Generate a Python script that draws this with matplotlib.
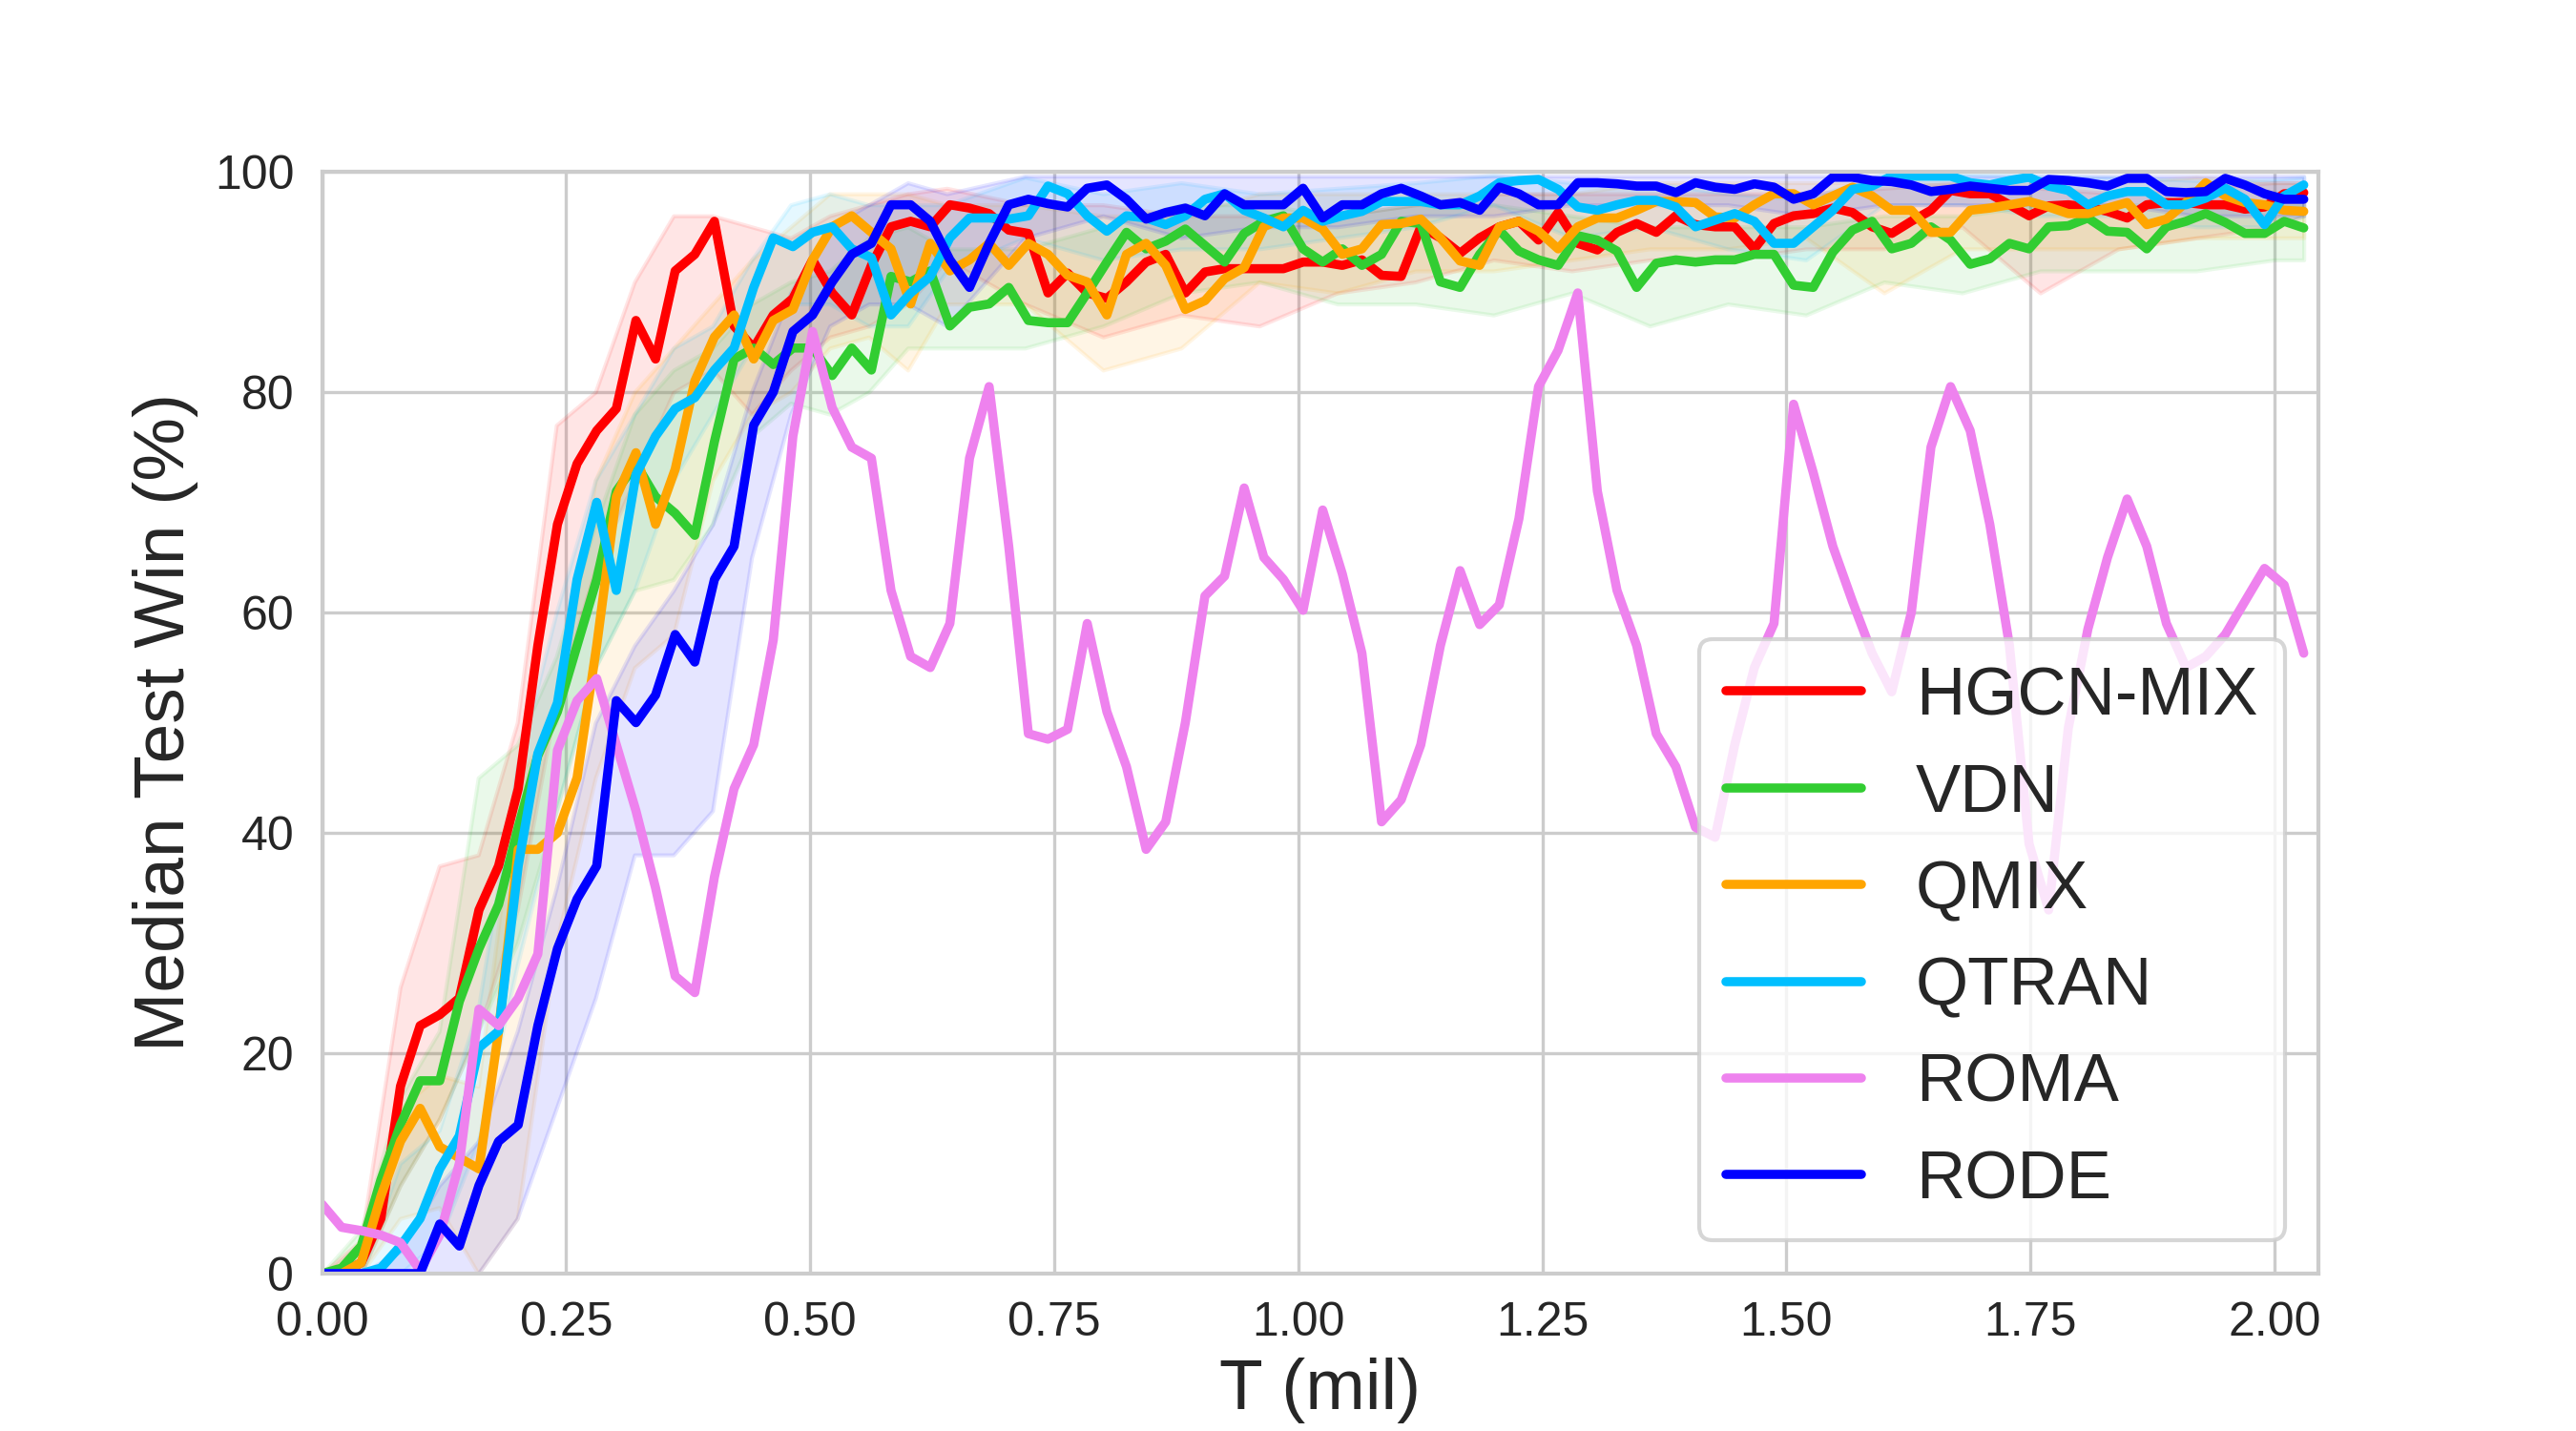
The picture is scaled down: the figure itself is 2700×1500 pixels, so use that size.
import numpy as np
import matplotlib
matplotlib.use("Agg")
import matplotlib.pyplot as plt
import seaborn as sns

# median test win rate, one value every ~0.02 mil steps
t = np.linspace(0, 2.03, 102)

hgcn = [0, 0, 1, 5, 17, 22.5, 23.5, 25, 33, 37,
        44, 57, 68, 73.5, 76.5, 78.5, 86.5, 83, 91, 92.5,
        95.5, 86, 84, 87, 88.5, 92, 89, 87, 91.5, 95,
        95.5, 95, 97, 96.7, 96.2, 94.7, 94.4, 89, 90.8, 89,
        88.5, 90, 91.8, 92.5, 89, 90.9, 91.2, 91.2, 91.2, 91.2,
        91.8, 91.8, 91.5, 92, 90.6, 90.5, 95, 94, 92.6, 94,
        95, 95.5, 93.8, 96.3, 93.5, 92.9, 94.5, 95.3, 94.5, 96,
        95.2, 95, 95, 93, 95.3, 96, 96.2, 96.7, 96.3, 95,
        94.4, 95.5, 96.5, 98.3, 98, 98, 97, 96, 96.9, 97,
        96.8, 96.4, 95.8, 97, 97.2, 97.2, 97, 97, 96.6, 96.8,
        98, 98.1]
vdn = [0, 0.5, 2.5, 8.5, 13.5, 17.5, 17.5, 24.7, 29.5, 33.5,
       40.5, 47, 51, 57, 63, 71, 73.5, 70.5, 69, 67,
       75.5, 83, 84, 82.5, 84, 84, 81.5, 84, 82, 90.5,
       90, 91, 86, 87.7, 88, 89.5, 86.5, 86.3, 86.3, 89,
       91.8, 94.5, 93, 93.7, 94.8, 93.3, 91.8, 94.4, 95.5, 96,
       93, 91.8, 93, 91.5, 92.5, 95.5, 95.3, 90, 89.5, 92.5,
       94.7, 92.8, 92, 91.5, 94.2, 93.8, 92.8, 89.5, 91.7, 92,
       91.8, 92, 92, 92.5, 92.5, 89.7, 89.5, 92.7, 94.7, 95.5,
       93, 93.5, 95, 93.8, 91.6, 92.1, 93.5, 93, 95, 95.1,
       95.8, 94.6, 94.5, 93, 95, 95.5, 96.2, 95.4, 94.4, 94.4,
       95.5, 94.9]
qmix = [0, 0, 1, 7, 12, 15, 11.5, 10.5, 9.5, 22,
        38.5, 38.5, 40, 45, 57, 70.5, 74.5, 68, 73, 81,
        85, 87, 83, 86.5, 87.5, 92, 95, 96, 94.5, 93,
        88, 93.5, 91, 92, 93.5, 91.5, 93.5, 92.5, 90.6, 90,
        87, 92.5, 93.5, 91.5, 87.5, 88.3, 90.3, 91.3, 95, 95.8,
        95.8, 94.8, 92.5, 93, 95.2, 95.3, 95.7, 94, 91.9, 91.5,
        95, 95.5, 94.6, 93, 95, 95.8, 95.8, 96.5, 97.3, 97.3,
        97.2, 95.9, 95.8, 97, 98, 98, 97, 97.8, 98.6, 97.8,
        96.5, 96.5, 94.5, 94.5, 96.5, 96.7, 97, 97.3, 96.8, 96.2,
        96.2, 96.7, 97.2, 95.2, 95.7, 97.2, 99, 97.8, 97.2, 97,
        96.5, 96.4]
qtran = [0, 0, 0, 0.5, 2.5, 5, 9.5, 12.5, 20.5, 22,
         37, 47.2, 51.8, 63, 70, 62, 72.5, 76, 78.5, 79.5,
         82, 84, 89.5, 94, 93.2, 94.5, 95, 93, 92.2, 87,
         89, 90.5, 94, 95.8, 95.8, 95.7, 96, 98.7, 98, 96,
         94.6, 96, 95.8, 95.2, 96, 97.5, 98, 96.5, 95.8, 95,
         96.5, 95.5, 96, 96.4, 97.3, 97.3, 97.3, 97, 97, 97.8,
         99, 99.2, 99.3, 98.4, 96.8, 96.5, 97, 97.4, 97.4, 96.8,
         95, 95.6, 96.2, 95.5, 93.5, 93.5, 95, 96.5, 98.4, 98.7,
         99.6, 99.6, 99.6, 99.6, 99, 98.8, 99.2, 99.5, 98.7, 98.3,
         97, 97.8, 98.2, 98.2, 97, 97, 97.6, 98.5, 97.5, 95.2,
         97.8, 98.8]
roma = [6.3, 4.2, 3.9, 3.5, 2.8, 0.3, 3.5, 10, 24, 22.5,
        25, 29, 47.5, 52, 54, 48, 42, 35, 27, 25.5,
        36, 44, 48, 57.5, 76, 85.5, 78.6, 75, 74, 62,
        56, 55, 59, 74, 80.5, 66, 49, 48.5, 49.4, 59,
        51, 46, 38.5, 41, 50, 61.5, 63.3, 71.3, 65, 63,
        60.2, 69.3, 63.5, 56.3, 41, 43, 48, 57, 63.8, 58.9,
        60.7, 68.5, 80.5, 83.8, 89, 71, 62, 57, 49, 46,
        40.5, 39.6, 48, 55, 59, 78.9, 72.7, 66, 61, 56.3,
        52.8, 60, 75, 80.5, 76.5, 68, 57, 39, 33, 49.5,
        58.5, 65, 70.3, 66, 59, 55, 56, 58, 61, 64,
        62.5, 56.3]
rode = [0, 0, 0, 0, 0, 0, 4.5, 2.5, 8, 12,
        13.5, 22.5, 29.5, 34, 37, 52, 50, 52.5, 58, 55.5,
        63, 66, 77, 80, 85.5, 87, 90, 92.5, 93.5, 97,
        97, 95.5, 92, 89.5, 93.5, 97, 97.5, 97.1, 96.8, 98.5,
        98.8, 97.5, 95.7, 96.3, 96.7, 96, 98, 97, 97, 97,
        98.5, 95.8, 97, 97, 98, 98.5, 97.8, 97, 97.2, 96.5,
        98.6, 98, 97, 97, 99, 99, 98.9, 98.7, 98.7, 98.1,
        99, 98.6, 98.4, 98.9, 98.6, 97.5, 98, 99.5, 99.5, 99.2,
        99.1, 98.8, 98.2, 98.4, 98.7, 98.5, 98.3, 98.3, 99.3, 99.2,
        99, 98.7, 99.4, 99.4, 98.2, 98.1, 98.2, 99.4, 98.8, 98,
        97.5, 97.5]

# spread across runs (shaded band), coarser grid
band_t = [0, .04, .08, .12, .16, .20, .24, .28, .32, .36, .40, .44, .48, .52, .56, .60, .64,
          .72, .80, .88, .96, 1.04, 1.12, 1.20, 1.28, 1.36, 1.44, 1.52, 1.60, 1.68, 1.76,
          1.84, 1.92, 2.00, 2.03]
hgcn_lo = [0, 0, 8, 14, 22, 33, 52, 64, 72, 80, 82, 78, 82, 85, 86, 88, 92,
           88, 85, 87, 86, 89, 90, 92, 91, 92, 92, 93, 93, 95, 89, 93, 94, 95, 96]
hgcn_hi = [0, 3, 26, 37, 38, 50, 77, 80, 90, 96, 96, 95, 94, 96, 97, 98, 98.5,
           97, 97, 96, 96, 96, 97, 98, 98, 98, 98, 98, 98.5, 99, 98.5, 98, 98.5, 99, 99]
vdn_lo = [0, 0, 8, 14, 22, 30, 42, 55, 62, 63, 68, 76, 79, 78, 80, 84, 84,
          84, 86, 89, 90, 88, 88, 87, 89, 86, 88, 87, 90, 89, 91, 91, 91, 92, 92]
vdn_hi = [0, 4, 16, 22, 45, 48, 56, 68, 78, 82, 84, 88, 90, 91, 94, 95, 93,
          93, 95, 97, 97, 96, 97, 97, 96, 95, 95, 95, 96, 96, 97, 97, 97, 97, 97]
qmix_lo = [0, 0, 5, 6, 0, 5, 30, 45, 55, 58, 72, 78, 80, 84, 85, 82, 88,
           88, 82, 84, 90, 89, 91, 91, 92, 93, 93, 94, 89, 93, 93, 93, 94, 94, 94]
qmix_hi = [0, 2, 15, 18, 17, 45, 50, 72, 80, 84, 88, 92, 95, 98, 98, 98, 97,
           97, 96, 96, 98, 98, 98, 98, 98, 99, 99, 99, 99, 99, 99, 99, 99.5, 99, 99]
qtran_lo = [0, 0, 0, 3, 12, 28, 42, 55, 62, 72, 78, 84, 88, 88, 86, 86, 91,
            94, 92, 93, 93, 94, 95, 97, 94, 95, 93, 92, 97, 97, 96, 96, 95, 95, 96]
qtran_hi = [0, 0, 10, 13, 24, 46, 60, 72, 78, 84, 86, 92, 97, 98, 97, 97, 97,
            99.5, 98, 99, 98, 98.5, 99, 99.7, 99, 99, 98, 97.5, 99.8, 99.8, 99.6, 99.5, 99.2, 99.3, 99.5]
rode_lo = [0, 0, 0, 0, 0, 5, 15, 25, 38, 38, 42, 65, 78, 86, 88, 88, 86,
           94, 96, 94, 95, 95, 96, 96, 97, 97, 97, 96, 97, 97, 97, 97, 96, 96, 96]
rode_hi = [0, 0, 2, 8, 12, 22, 35, 50, 57, 62, 68, 80, 89, 95, 97, 99, 98,
           99.6, 99.6, 99.6, 99.6, 99.6, 99.6, 99.6, 99.6, 99.6, 99.6, 99.6, 99.6, 99.6, 99.6,
           99.6, 99.6, 99.6, 99.6]

names = ["HGCN-MIX", "VDN", "QMIX", "QTRAN", "ROMA", "RODE"]
colors = ["red", "limegreen", "orange", "deepskyblue", "violet", "blue"]

sns.set_style("whitegrid")
plt.rcParams["font.family"] = ["Liberation Sans", "DejaVu Sans"]

fig, ax = plt.subplots(figsize=(9, 5), dpi=300)

bands = [(hgcn_lo, hgcn_hi, colors[0]), (vdn_lo, vdn_hi, colors[1]),
         (qmix_lo, qmix_hi, colors[2]), (qtran_lo, qtran_hi, colors[3]),
         (rode_lo, rode_hi, colors[5])]
for lo, hi, c in bands:
    ax.fill_between(band_t, lo, hi, color=c, alpha=0.1, linewidth=1)

for ys, name, c in zip([hgcn, vdn, qmix, qtran, roma, rode], names, colors):
    ax.plot(t, ys, color=c, lw=2.3, label=name)

ax.set_xlim(0, 2.045)
ax.set_ylim(0, 100)
ax.set_xticks(np.arange(0, 2.01, 0.25))
ax.set_xticklabels(["%.2f" % v for v in np.arange(0, 2.01, 0.25)])
ax.set_yticks(np.arange(0, 101, 20))
ax.tick_params(labelsize=12, colors=".15", length=0, pad=7)
ax.grid(color=".8", lw=0.8)
for s in ax.spines.values():
    s.set_color(".8")
    s.set_linewidth(1.0)
ax.set_xlabel("T (mil)", fontsize=18, color=".15", labelpad=3)
ax.set_ylabel("Median Test Win (%)", fontsize=18, color=".15", labelpad=4)
ax.legend(loc="lower right", fontsize=17, framealpha=0.8, edgecolor=".8")

fig.savefig("out.png", dpi=300)
